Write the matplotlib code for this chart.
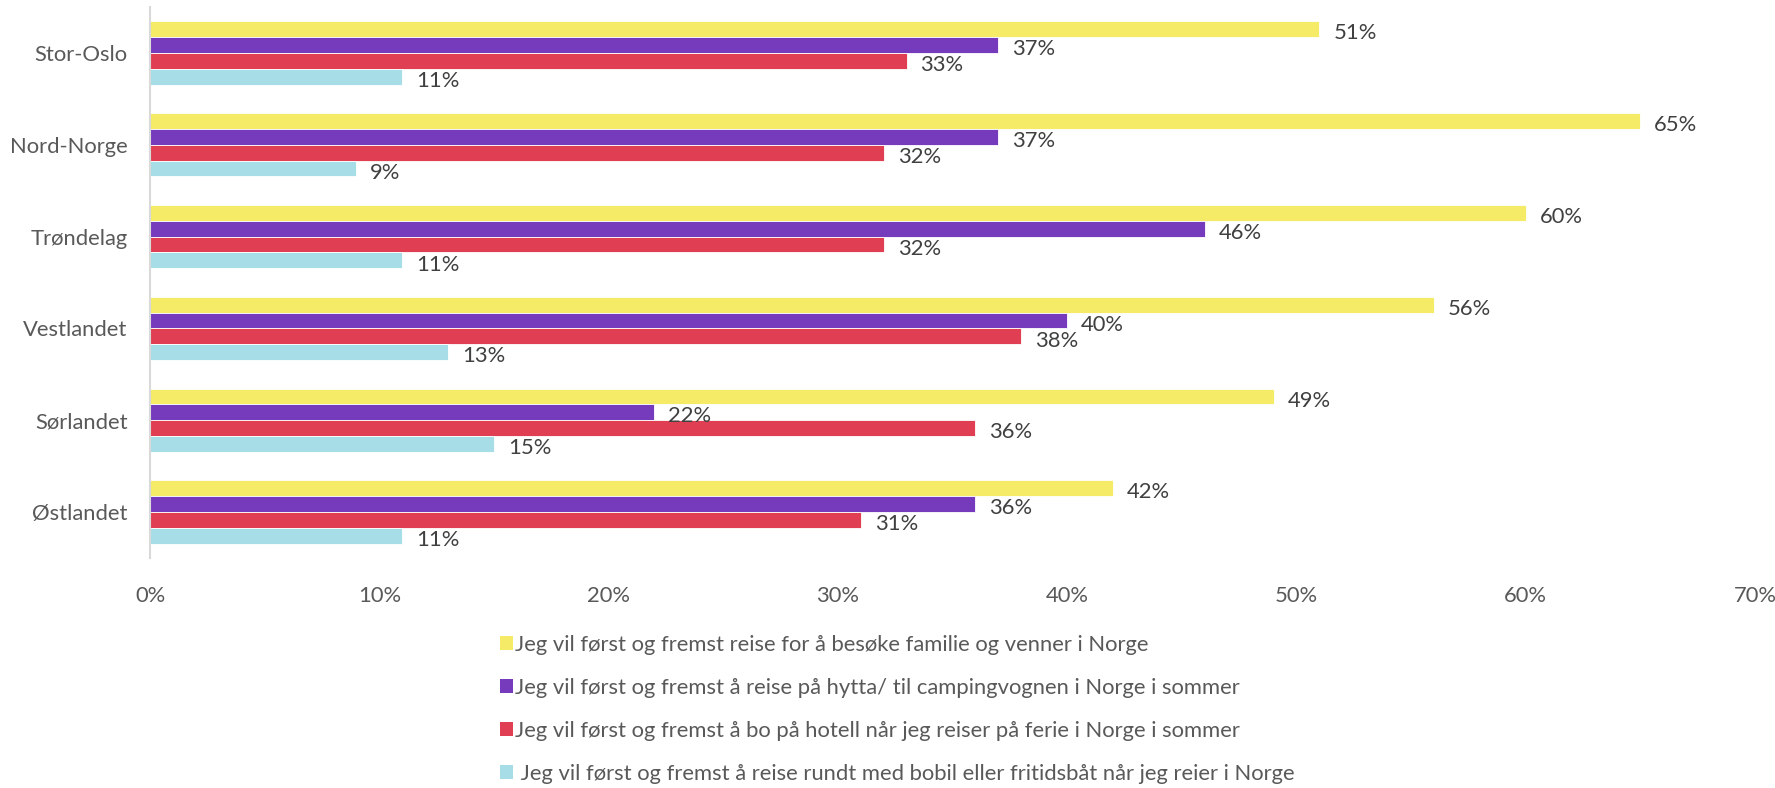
import matplotlib
matplotlib.use("Agg")
import matplotlib.pyplot as plt
import numpy as np
from matplotlib.patches import Patch

plt.rcParams['font.family'] = ['Lato', 'DejaVu Sans']

regions = ["Stor-Oslo", "Nord-Norge", "Trøndelag", "Vestlandet", "Sørlandet", "Østlandet"]
series_labels = [
    "Jeg vil først og fremst reise for å besøke familie og venner i Norge",
    "Jeg vil først og fremst å reise på hytta/ til campingvognen i Norge i sommer",
    "Jeg vil først og fremst å bo på hotell når jeg reiser på ferie i Norge i sommer",
    " Jeg vil først og fremst å reise rundt med bobil eller fritidsbåt når jeg reier i Norge",
]
familie = [51, 65, 60, 56, 49, 42]
hytta = [37, 37, 46, 40, 22, 36]
hotell = [33, 32, 32, 38, 36, 31]
bobil = [11, 9, 11, 13, 15, 11]
colors = ["#F5EB66", "#763BBD", "#E03F53", "#A6DDE7"]
xticks = [0, 10, 20, 30, 40, 50, 60, 70]

series = [familie, hytta, hotell, bobil]
FS = 15.8

fig = plt.figure(figsize=(17.75, 7.88), dpi=100)
ax = fig.add_axes([150/1775, 1-558/788, (1755-150)/1775, 551/788])

h = 0.1725
y = np.arange(len(regions))
for k, (vals, col) in enumerate(zip(series, colors)):
    pos = y + (k - 1.5) * h
    ax.barh(pos, vals, height=h, color=col, edgecolor='white', linewidth=0.6)
    for p, v in zip(pos, vals):
        ax.annotate(f"{v}%", (v, p), xytext=(10, -3), textcoords='offset points',
                    va='center', ha='left', fontsize=FS, color='#404040')

ax.set_xlim(0, 70)
ax.set_ylim(len(regions) - 0.5, -0.5)
ax.set_yticks(y)
ax.set_yticklabels(regions, fontsize=FS, color='#595959')
ax.set_xticks(xticks)
ax.set_xticklabels([f"{t}%" for t in xticks], fontsize=FS, color='#595959')
ax.tick_params(axis='both', length=0)
ax.tick_params(axis='y', pad=16)
ax.tick_params(axis='x', pad=20)
for s in ['top', 'right', 'bottom']:
    ax.spines[s].set_visible(False)
ax.spines['left'].set_color('#D9D9D9')
ax.spines['left'].set_linewidth(1.5)

handles = [Patch(facecolor=c, edgecolor='none') for c in colors]
fig.legend(handles, series_labels, loc='upper left', bbox_to_anchor=(489/1775, 1-624/788),
           frameon=False, fontsize=FS, labelcolor='#595959', handlelength=0.6,
           handleheight=0.6, handletextpad=0.08, labelspacing=1.05, borderpad=0)

fig.savefig("out.png", dpi=100)
